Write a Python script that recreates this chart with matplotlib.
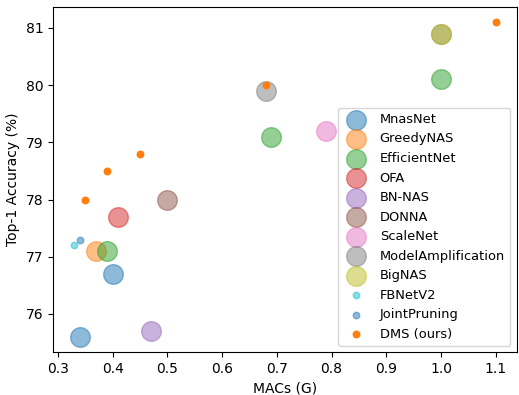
import matplotlib
matplotlib.use("Agg")
import matplotlib.pyplot as plt

methods = ["MnasNet", "GreedyNAS", "EfficientNet", "OFA", "BN-NAS", "DONNA",
           "ScaleNet", "ModelAmplification", "BigNAS", "FBNetV2", "JointPruning", "DMS (ours)"]
macs = {
    "MnasNet": [0.34, 0.40],
    "GreedyNAS": [0.37],
    "EfficientNet": [0.39, 0.69, 1.0],
    "OFA": [0.41],
    "BN-NAS": [0.47],
    "DONNA": [0.50],
    "ScaleNet": [0.79],
    "ModelAmplification": [0.68, 1.0],
    "BigNAS": [1.0],
    "FBNetV2": [0.33],
    "JointPruning": [0.34],
    "DMS (ours)": [0.35, 0.39, 0.45, 0.68, 1.1],
}
acc = {
    "MnasNet": [75.6, 76.7],
    "GreedyNAS": [77.1],
    "EfficientNet": [77.1, 79.1, 80.1],
    "OFA": [77.7],
    "BN-NAS": [75.7],
    "DONNA": [78.0],
    "ScaleNet": [79.2],
    "ModelAmplification": [79.9, 80.9],
    "BigNAS": [80.9],
    "FBNetV2": [77.2],
    "JointPruning": [77.3],
    "DMS (ours)": [78.0, 78.5, 78.8, 80.0, 81.1],
}
small = {"FBNetV2", "JointPruning", "DMS (ours)"}

fig = plt.figure(figsize=(5.19, 3.95), dpi=100)
ax = fig.add_axes([0.1027, 0.1076, 0.8929, 0.8759])
for m in methods:
    s = 22 if m in small else 200
    alpha = 1.0 if m == "DMS (ours)" else 0.5
    ax.scatter(macs[m], acc[m], s=s, alpha=alpha, label=m)

ax.set_xlabel("MACs (G)")
ax.set_ylabel("Top-1 Accuracy (%)")
ax.legend(loc="lower right", fontsize=9.4)
fig.savefig("out.png", dpi=100)
